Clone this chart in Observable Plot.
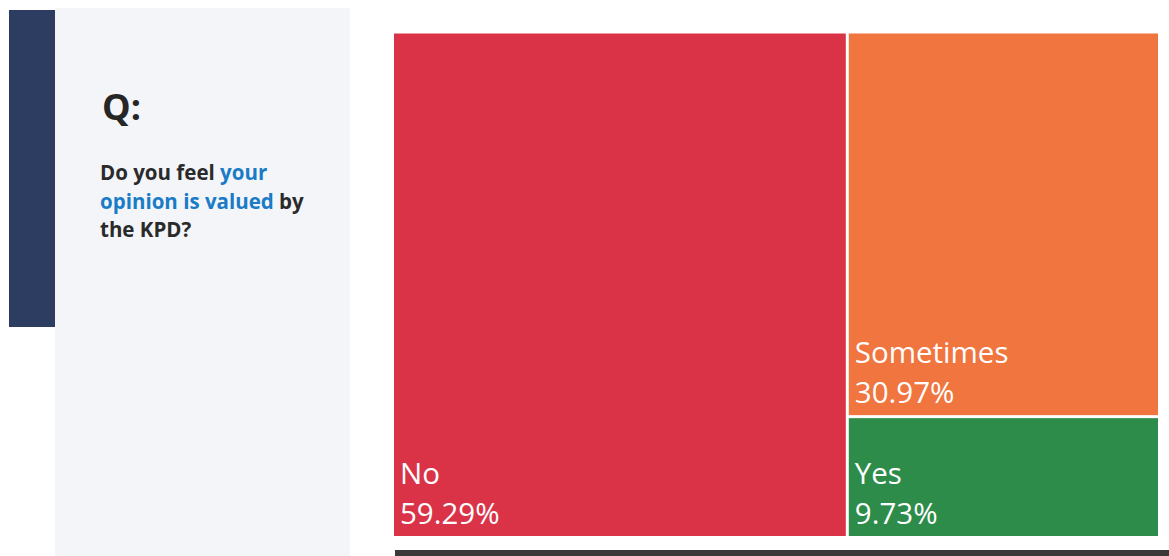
<!DOCTYPE html>
<html>
<head>
<meta charset="utf-8">
<script src="https://cdn.jsdelivr.net/npm/d3@7"></script>
<script src="https://cdn.jsdelivr.net/npm/@observablehq/plot@0.6"></script>
<style>
  html, body { margin: 0; padding: 0; background: #ffffff; }
  #wrap { position: relative; width: 1169px; height: 556px; overflow: hidden; font-family: "Open Sans", sans-serif; }
  #panel { position: absolute; left: 55px; top: 8px; width: 295px; height: 548px; background: #f3f5f9; }
  #bar { position: absolute; left: 9px; top: 10px; width: 46px; height: 317px; background: #2d3d62; }
  #q { position: absolute; left: 102px; top: 89px; font-size: 36px; font-weight: 700; color: #262626; line-height: 1; }
  #question { position: absolute; left: 100px; top: 158px; width: 240px; font-size: 20.5px; font-weight: 700; color: #2a2a2a; line-height: 28.5px; white-space: nowrap; }
  #question .hl { color: #1a7bc6; }
  #chart { position: absolute; left: 0; top: 0; }
  #baseline { position: absolute; left: 395px; top: 550px; width: 774px; height: 6px; background: #3a3a3a; }
</style>
</head>
<body>
<div id="wrap">
  <div id="panel"></div>
  <div id="bar"></div>
  <div id="q">Q:</div>
  <div id="question">Do you feel <span class="hl">your</span><br><span class="hl">opinion is valued</span> by<br>the KPD?</div>
  <div id="chart"></div>
  <div id="baseline"></div>
</div>
<script>
const categories = ["No", "Sometimes", "Yes"];
const percents = [59.29, 30.97, 9.73];
const colors = ["#da3348", "#f0753f", "#2e8c4b"];

// Treemap layout (slice for the first item, dice for the rest), in data units
const total = d3.sum(percents);
const restTotal = percents[1] + percents[2];
const cells = [];
cells.push({name: categories[0], value: percents[0], x1: 0, x2: percents[0], y1: 0, y2: 1});
let yAcc = 0;
for (let i = 1; i < categories.length; i++) {
  const h = percents[i] / restTotal;
  cells.push({name: categories[i], value: percents[i], x1: percents[0], x2: total, y1: yAcc, y2: yAcc + h});
  yAcc += h;
}
cells.forEach(d => d.label = `${d.name}\n${d.value.toFixed(2)}%`);

const chart = Plot.plot({
  width: 1169,
  height: 556,
  marginLeft: 392.5,
  marginRight: 9.5,
  marginTop: 32,
  marginBottom: 18.5,
  style: {background: "transparent", fontFamily: "Open Sans, sans-serif"},
  x: {domain: [0, total], axis: null},
  y: {domain: [0, 1], reverse: true, axis: null},
  color: {domain: categories, range: colors},
  marks: [
    Plot.rect(cells, {x1: "x1", x2: "x2", y1: "y1", y2: "y2", fill: "name", inset: 1.5}),
    Plot.text(cells, {
      x: "x1", y: "y2", text: "label",
      textAnchor: "start", lineAnchor: "bottom", lineHeight: 1.356,
      dx: 7, dy: -14, fill: "white", fontSize: 29.5
    })
  ]
});
document.getElementById("chart").appendChild(chart);
</script>
</body>
</html>
